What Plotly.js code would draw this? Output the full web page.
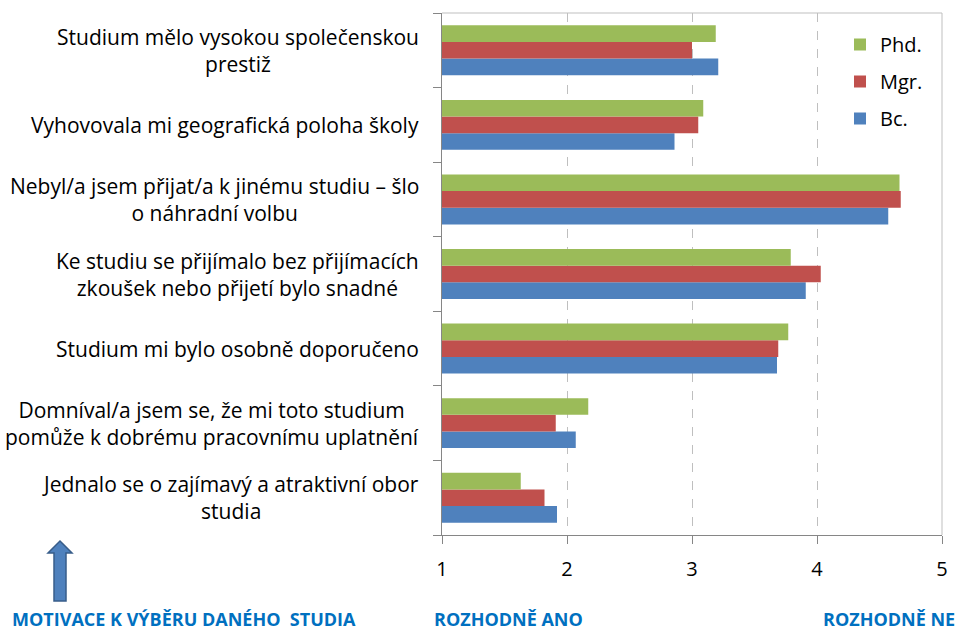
<!DOCTYPE html>
<html>
<head>
<meta charset="utf-8">
<script src="https://cdn.plot.ly/plotly-3.0.1.min.js"></script>
<style>html,body{margin:0;padding:0;background:#fff;}#chart{width:977px;height:633px;}</style>
</head>
<body>
<div id="chart"></div>
<script>
// Categories, top to bottom
const categories = [
  "Studium mělo vysokou společenskou<br>prestiž",
  "Vyhovovala mi geografická poloha školy",
  "Nebyl/a jsem přijat/a k jinému studiu – šlo<br>o náhradní volbu",
  "Ke studiu se přijímalo bez přijímacích<br>zkoušek nebo přijetí bylo snadné",
  "Studium mi bylo osobně doporučeno",
  "Domníval/a jsem se, že mi toto studium<br>pomůže k dobrému pracovnímu uplatnění",
  "Jednalo se o zajímavý a atraktivní obor<br>studia"
];
const seriesNames = ["Bc.", "Mgr.", "Phd."];
const bcValues  = [3.21, 2.86, 4.57, 3.91, 3.68, 2.07, 1.92];
const mgrValues = [3.00, 3.05, 4.67, 4.03, 3.69, 1.91, 1.82];
const phdValues = [3.19, 3.09, 4.66, 3.79, 3.77, 2.17, 1.63];
const xTickValues = [1, 2, 3, 4, 5];
const bottomLabels = ["MOTIVACE K VÝBĚRU DANÉHO  STUDIA", "ROZHODNĚ ANO", "ROZHODNĚ NE"];

const colors = ["#4F81BD", "#C0504D", "#9BBB59"];
const valuesList = [bcValues, mgrValues, phdValues];

const W = 977, H = 633;
const L = 442, R = 942, T = 13, B = 535;
const px = x => (x - L) / (R - L);
const py = y => (B - y) / (B - T);

const FONT = "'Open Sans', Lato, sans-serif";

const traces = seriesNames.map((n, i) => ({
  type: "bar",
  orientation: "h",
  name: n,
  y: categories,
  x: valuesList[i],
  marker: {color: colors[i], line: {width: 0}},
  legendgroup: "g" + i,
  legendrank: 3 - i,
  hoverinfo: "x+name"
}));

const annotations = categories.map(c => ({
  xref: "paper", yref: "y",
  x: 0, y: c,
  xanchor: "right", yanchor: "middle",
  xshift: -21,
  align: "center",
  text: c,
  showarrow: false,
  font: {family: FONT, size: 21, color: "#000"}
}));

const bottomFont = {family: FONT, size: 18, color: "#0070C0"};
annotations.push({
  xref: "paper", yref: "paper", x: px(10), y: py(619),
  xanchor: "left", yanchor: "middle", showarrow: false,
  text: "<b>" + bottomLabels[0] + "</b>", font: bottomFont
});
annotations.push({
  xref: "paper", yref: "paper", x: px(432), y: py(619),
  xanchor: "left", yanchor: "middle", showarrow: false,
  text: "<b>" + bottomLabels[1] + "</b>", font: bottomFont
});
annotations.push({
  xref: "paper", yref: "paper", x: px(957), y: py(619),
  xanchor: "right", yanchor: "middle", showarrow: false,
  text: "<b>" + bottomLabels[2] + "</b>", font: bottomFont
});

const arrowPts = [[60,541],[72,553],[66,553],[66,601],[54,601],[54,553],[48,553]];
const arrowPath = "M " + arrowPts.map(p => px(p[0]).toFixed(5) + "," + py(p[1]).toFixed(5)).join(" L ") + " Z";

const shapes = [
  {type: "line", xref: "paper", yref: "paper", x0: 0, y0: 1, x1: 1, y1: 1, line: {color: "#BFBFBF", width: 1}},
  {type: "line", xref: "paper", yref: "paper", x0: 1, y0: 0, x1: 1, y1: 1, line: {color: "#BFBFBF", width: 1}},
  {type: "path", xref: "paper", yref: "paper", path: arrowPath, fillcolor: "#4F81BD", line: {color: "#385D8A", width: 1.5}}
];

const layout = {
  width: W, height: H,
  margin: {l: L, r: W - R, t: T, b: H - B, pad: 0},
  paper_bgcolor: "#fff", plot_bgcolor: "#fff",
  barmode: "group",
  bargap: 0.33,
  bargroupgap: 0,
  font: {family: FONT, size: 19, color: "#000"},
  xaxis: {
    range: [1, 5],
    tickvals: xTickValues,
    ticks: "outside", ticklen: 8, tickcolor: "#868686", tickwidth: 1,
    showline: true, linecolor: "#868686", linewidth: 1,
    showgrid: true, gridcolor: "#BFBFBF", griddash: "dash", gridwidth: 1,
    zeroline: false,
    tickfont: {family: FONT, size: 20, color: "#000"},
    ticklabelstandoff: 8,
    fixedrange: true
  },
  yaxis: {
    type: "category",
    categoryorder: "array",
    categoryarray: categories.slice().reverse(),
    ticks: "outside", tickson: "boundaries", ticklen: 8, tickcolor: "#868686", tickwidth: 1,
    showline: true, linecolor: "#868686", linewidth: 1,
    showgrid: false, zeroline: false,
    showticklabels: false,
    fixedrange: true
  },
  legend: {
    x: px(840), y: py(25), xanchor: "left", yanchor: "top",
    traceorder: "grouped",
    tracegroupgap: 8,
    bgcolor: "rgba(0,0,0,0)",
    font: {family: FONT, size: 20, color: "#000"}
  },
  annotations: annotations,
  shapes: shapes,
  showlegend: true
};

Plotly.newPlot("chart", traces, layout, {displayModeBar: false, staticPlot: true});
</script>
</body>
</html>
